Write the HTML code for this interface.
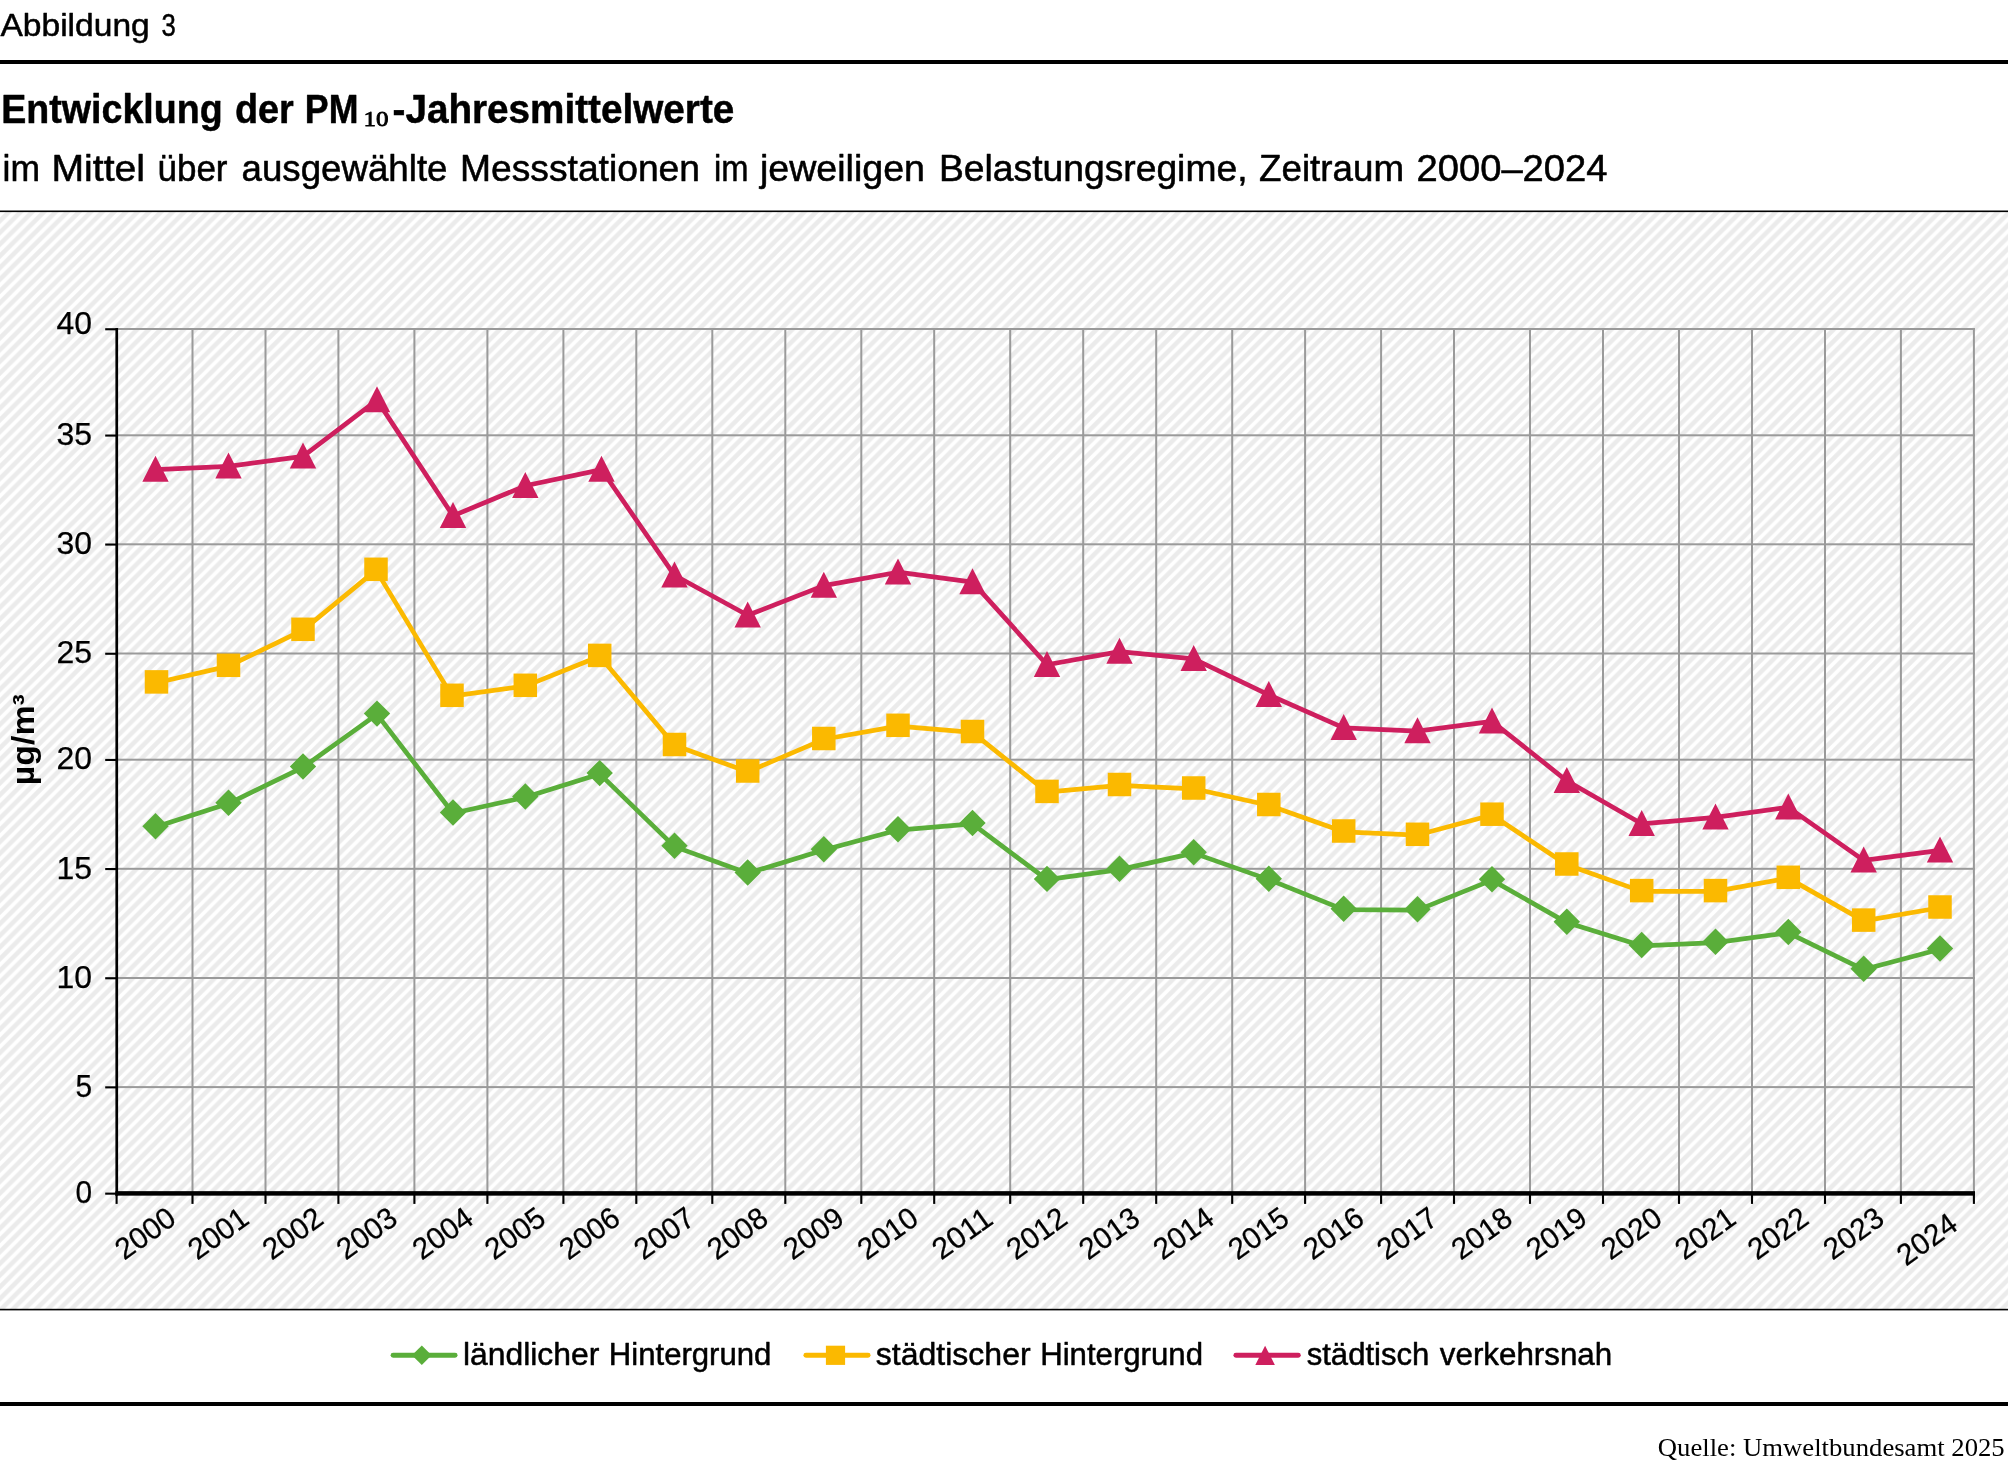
<!DOCTYPE html>
<html lang="de"><head><meta charset="utf-8"><title>Abbildung 3</title>
<style>
html,body{margin:0;padding:0;background:#fff;}
body{width:2008px;height:1467px;overflow:hidden;position:relative;font-family:"Liberation Sans", sans-serif;}
svg{position:absolute;left:0;top:0;display:block;will-change:transform;}
text{font-family:"Liberation Sans", sans-serif;fill:#000;}
.serif{font-family:"Liberation Serif", serif;}
</style></head><body>
<svg width="2008" height="1467" viewBox="0 0 2008 1467">
<defs>
<pattern id="hatch" patternUnits="userSpaceOnUse" width="11.700" height="11.716" x="2.9" y="212">
<rect width="11.700" height="11.716" fill="#fff"/>
<path d="M2.691,0 L9.009,0 L0,9.021 L0,2.695 Z M14.391,0 L20.709,0 L0,20.737 L0,14.411 Z M-9.009,0 L-2.691,0 L0,-2.695 L0,-9.021 Z" fill="#ebebeb"/>
</pattern>
<clipPath id="plotclip"><rect x="0" y="212" width="2008" height="1097"/></clipPath>
</defs>
<rect x="0" y="0" width="2008" height="1467" fill="#fff"/>
<text x="0.40" y="35.50" font-size="31.50" textLength="149.40" lengthAdjust="spacingAndGlyphs" stroke="#000" stroke-width="0.50" stroke-linejoin="round">Abbildung</text>
<text x="161.40" y="35.50" font-size="31.50" textLength="14.30" lengthAdjust="spacingAndGlyphs" stroke="#000" stroke-width="0.50" stroke-linejoin="round">3</text>
<rect x="0" y="60" width="2008" height="4" fill="#000"/>
<text x="1.20" y="122.80" font-size="41.00" textLength="221.50" lengthAdjust="spacingAndGlyphs" font-weight="bold" stroke="#000" stroke-width="0.50" stroke-linejoin="round">Entwicklung</text>
<text x="235.00" y="122.80" font-size="41.00" textLength="58.80" lengthAdjust="spacingAndGlyphs" font-weight="bold" stroke="#000" stroke-width="0.50" stroke-linejoin="round">der</text>
<text x="304.80" y="122.80" font-size="41.00" textLength="53.60" lengthAdjust="spacingAndGlyphs" font-weight="bold" stroke="#000" stroke-width="0.50" stroke-linejoin="round">PM</text>
<text x="363.60" y="125.60" font-size="21.00" textLength="25.00" lengthAdjust="spacingAndGlyphs" class="serif" stroke="#000" stroke-width="0.80" stroke-linejoin="round">10</text>
<text x="392.50" y="122.80" font-size="41.00" textLength="341.80" lengthAdjust="spacingAndGlyphs" font-weight="bold" stroke="#000" stroke-width="0.50" stroke-linejoin="round">-Jahresmittelwerte</text>
<text x="2.50" y="180.90" font-size="37.00" textLength="37.50" lengthAdjust="spacingAndGlyphs" stroke="#000" stroke-width="0.55" stroke-linejoin="round">im</text>
<text x="51.50" y="180.90" font-size="37.00" textLength="93.50" lengthAdjust="spacingAndGlyphs" stroke="#000" stroke-width="0.55" stroke-linejoin="round">Mittel</text>
<text x="157.50" y="180.90" font-size="37.00" textLength="70.00" lengthAdjust="spacingAndGlyphs" stroke="#000" stroke-width="0.55" stroke-linejoin="round">über</text>
<text x="241.50" y="180.90" font-size="37.00" textLength="206.00" lengthAdjust="spacingAndGlyphs" stroke="#000" stroke-width="0.55" stroke-linejoin="round">ausgewählte</text>
<text x="460.00" y="180.90" font-size="37.00" textLength="240.00" lengthAdjust="spacingAndGlyphs" stroke="#000" stroke-width="0.55" stroke-linejoin="round">Messstationen</text>
<text x="714.00" y="180.90" font-size="37.00" textLength="34.50" lengthAdjust="spacingAndGlyphs" stroke="#000" stroke-width="0.55" stroke-linejoin="round">im</text>
<text x="760.00" y="180.90" font-size="37.00" textLength="165.00" lengthAdjust="spacingAndGlyphs" stroke="#000" stroke-width="0.55" stroke-linejoin="round">jeweiligen</text>
<text x="939.00" y="180.90" font-size="37.00" textLength="308.50" lengthAdjust="spacingAndGlyphs" stroke="#000" stroke-width="0.55" stroke-linejoin="round">Belastungsregime,</text>
<text x="1259.00" y="180.90" font-size="37.00" textLength="145.00" lengthAdjust="spacingAndGlyphs" stroke="#000" stroke-width="0.55" stroke-linejoin="round">Zeitraum</text>
<text x="1416.50" y="180.90" font-size="37.00" textLength="191.00" lengthAdjust="spacingAndGlyphs" stroke="#000" stroke-width="0.55" stroke-linejoin="round">2000–2024</text>
<rect x="0" y="211" width="2008" height="1098.5" fill="url(#hatch)"/>
<rect x="0" y="210.5" width="2008" height="1.6" fill="#000"/>
<rect x="0" y="1308.8" width="2008" height="1.6" fill="#000"/>
<rect x="116.60" y="328.00" width="1858.30" height="2" fill="#9a9a9a"/>
<rect x="116.60" y="434.30" width="1858.30" height="2" fill="#9a9a9a"/>
<rect x="116.60" y="543.30" width="1858.30" height="2" fill="#9a9a9a"/>
<rect x="116.60" y="652.50" width="1858.30" height="2" fill="#9a9a9a"/>
<rect x="116.60" y="758.70" width="1858.30" height="2" fill="#9a9a9a"/>
<rect x="116.60" y="867.80" width="1858.30" height="2" fill="#9a9a9a"/>
<rect x="116.60" y="977.00" width="1858.30" height="2" fill="#9a9a9a"/>
<rect x="116.60" y="1086.10" width="1858.30" height="2" fill="#9a9a9a"/>
<rect x="191.50" y="328.00" width="2" height="864.40" fill="#9a9a9a"/>
<rect x="264.50" y="328.00" width="2" height="864.40" fill="#9a9a9a"/>
<rect x="337.40" y="328.00" width="2" height="864.40" fill="#9a9a9a"/>
<rect x="413.40" y="328.00" width="2" height="864.40" fill="#9a9a9a"/>
<rect x="486.40" y="328.00" width="2" height="864.40" fill="#9a9a9a"/>
<rect x="562.40" y="328.00" width="2" height="864.40" fill="#9a9a9a"/>
<rect x="635.30" y="328.00" width="2" height="864.40" fill="#9a9a9a"/>
<rect x="711.30" y="328.00" width="2" height="864.40" fill="#9a9a9a"/>
<rect x="784.30" y="328.00" width="2" height="864.40" fill="#9a9a9a"/>
<rect x="860.30" y="328.00" width="2" height="864.40" fill="#9a9a9a"/>
<rect x="933.20" y="328.00" width="2" height="864.40" fill="#9a9a9a"/>
<rect x="1009.20" y="328.00" width="2" height="864.40" fill="#9a9a9a"/>
<rect x="1082.20" y="328.00" width="2" height="864.40" fill="#9a9a9a"/>
<rect x="1155.20" y="328.00" width="2" height="864.40" fill="#9a9a9a"/>
<rect x="1231.20" y="328.00" width="2" height="864.40" fill="#9a9a9a"/>
<rect x="1304.10" y="328.00" width="2" height="864.40" fill="#9a9a9a"/>
<rect x="1380.10" y="328.00" width="2" height="864.40" fill="#9a9a9a"/>
<rect x="1453.00" y="328.00" width="2" height="864.40" fill="#9a9a9a"/>
<rect x="1529.00" y="328.00" width="2" height="864.40" fill="#9a9a9a"/>
<rect x="1602.00" y="328.00" width="2" height="864.40" fill="#9a9a9a"/>
<rect x="1678.00" y="328.00" width="2" height="864.40" fill="#9a9a9a"/>
<rect x="1751.00" y="328.00" width="2" height="864.40" fill="#9a9a9a"/>
<rect x="1824.00" y="328.00" width="2" height="864.40" fill="#9a9a9a"/>
<rect x="1899.90" y="328.00" width="2" height="864.40" fill="#9a9a9a"/>
<rect x="1972.90" y="328.00" width="2" height="864.40" fill="#9a9a9a"/>
<rect x="105.2" y="328.20" width="12" height="2.1" fill="#000"/>
<rect x="105.2" y="434.50" width="12" height="2.1" fill="#000"/>
<rect x="105.2" y="543.50" width="12" height="2.1" fill="#000"/>
<rect x="105.2" y="652.70" width="12" height="2.1" fill="#000"/>
<rect x="105.2" y="758.90" width="12" height="2.1" fill="#000"/>
<rect x="105.2" y="868.00" width="12" height="2.1" fill="#000"/>
<rect x="105.2" y="977.20" width="12" height="2.1" fill="#000"/>
<rect x="105.2" y="1086.30" width="12" height="2.1" fill="#000"/>
<rect x="105.2" y="1192.60" width="12" height="2.1" fill="#000"/>
<rect x="115.55" y="1193.40" width="2.1" height="10.5" fill="#000"/>
<rect x="191.45" y="1193.40" width="2.1" height="10.5" fill="#000"/>
<rect x="264.45" y="1193.40" width="2.1" height="10.5" fill="#000"/>
<rect x="337.35" y="1193.40" width="2.1" height="10.5" fill="#000"/>
<rect x="413.35" y="1193.40" width="2.1" height="10.5" fill="#000"/>
<rect x="486.35" y="1193.40" width="2.1" height="10.5" fill="#000"/>
<rect x="562.35" y="1193.40" width="2.1" height="10.5" fill="#000"/>
<rect x="635.25" y="1193.40" width="2.1" height="10.5" fill="#000"/>
<rect x="711.25" y="1193.40" width="2.1" height="10.5" fill="#000"/>
<rect x="784.25" y="1193.40" width="2.1" height="10.5" fill="#000"/>
<rect x="860.25" y="1193.40" width="2.1" height="10.5" fill="#000"/>
<rect x="933.15" y="1193.40" width="2.1" height="10.5" fill="#000"/>
<rect x="1009.15" y="1193.40" width="2.1" height="10.5" fill="#000"/>
<rect x="1082.15" y="1193.40" width="2.1" height="10.5" fill="#000"/>
<rect x="1155.15" y="1193.40" width="2.1" height="10.5" fill="#000"/>
<rect x="1231.15" y="1193.40" width="2.1" height="10.5" fill="#000"/>
<rect x="1304.05" y="1193.40" width="2.1" height="10.5" fill="#000"/>
<rect x="1380.05" y="1193.40" width="2.1" height="10.5" fill="#000"/>
<rect x="1452.95" y="1193.40" width="2.1" height="10.5" fill="#000"/>
<rect x="1528.95" y="1193.40" width="2.1" height="10.5" fill="#000"/>
<rect x="1601.95" y="1193.40" width="2.1" height="10.5" fill="#000"/>
<rect x="1677.95" y="1193.40" width="2.1" height="10.5" fill="#000"/>
<rect x="1750.95" y="1193.40" width="2.1" height="10.5" fill="#000"/>
<rect x="1823.95" y="1193.40" width="2.1" height="10.5" fill="#000"/>
<rect x="1899.85" y="1193.40" width="2.1" height="10.5" fill="#000"/>
<rect x="1972.85" y="1193.40" width="2.1" height="10.5" fill="#000"/>
<rect x="115.40" y="328.00" width="2.7" height="867.60" fill="#000"/>
<rect x="115.40" y="1191.15" width="1859.60" height="4.5" fill="#000"/>
<text x="56.40" y="334.30" font-size="30.50" textLength="35.60" lengthAdjust="spacingAndGlyphs" stroke="#000" stroke-width="0.25" stroke-linejoin="round">40</text>
<text x="56.40" y="445.00" font-size="30.50" textLength="35.60" lengthAdjust="spacingAndGlyphs" stroke="#000" stroke-width="0.25" stroke-linejoin="round">35</text>
<text x="56.40" y="554.00" font-size="30.50" textLength="35.60" lengthAdjust="spacingAndGlyphs" stroke="#000" stroke-width="0.25" stroke-linejoin="round">30</text>
<text x="56.40" y="663.20" font-size="30.50" textLength="35.60" lengthAdjust="spacingAndGlyphs" stroke="#000" stroke-width="0.25" stroke-linejoin="round">25</text>
<text x="56.40" y="769.40" font-size="30.50" textLength="35.60" lengthAdjust="spacingAndGlyphs" stroke="#000" stroke-width="0.25" stroke-linejoin="round">20</text>
<text x="56.40" y="878.50" font-size="30.50" textLength="35.60" lengthAdjust="spacingAndGlyphs" stroke="#000" stroke-width="0.25" stroke-linejoin="round">15</text>
<text x="56.40" y="987.70" font-size="30.50" textLength="35.60" lengthAdjust="spacingAndGlyphs" stroke="#000" stroke-width="0.25" stroke-linejoin="round">10</text>
<text x="75.40" y="1096.80" font-size="30.50" textLength="16.60" lengthAdjust="spacingAndGlyphs" stroke="#000" stroke-width="0.25" stroke-linejoin="round">5</text>
<text x="75.40" y="1203.10" font-size="30.50" textLength="16.60" lengthAdjust="spacingAndGlyphs" stroke="#000" stroke-width="0.25" stroke-linejoin="round">0</text>
<text transform="translate(178.00,1222.50) rotate(-35.5)" x="0" y="0" font-size="30" text-anchor="end" textLength="66" lengthAdjust="spacingAndGlyphs" stroke="#000" stroke-width="0.25">2000</text>
<text transform="translate(251.00,1222.50) rotate(-35.5)" x="0" y="0" font-size="30" text-anchor="end" textLength="66" lengthAdjust="spacingAndGlyphs" stroke="#000" stroke-width="0.25">2001</text>
<text transform="translate(325.50,1222.50) rotate(-35.5)" x="0" y="0" font-size="30" text-anchor="end" textLength="66" lengthAdjust="spacingAndGlyphs" stroke="#000" stroke-width="0.25">2002</text>
<text transform="translate(399.50,1222.50) rotate(-35.5)" x="0" y="0" font-size="30" text-anchor="end" textLength="66" lengthAdjust="spacingAndGlyphs" stroke="#000" stroke-width="0.25">2003</text>
<text transform="translate(475.50,1222.50) rotate(-35.5)" x="0" y="0" font-size="30" text-anchor="end" textLength="66" lengthAdjust="spacingAndGlyphs" stroke="#000" stroke-width="0.25">2004</text>
<text transform="translate(547.80,1222.50) rotate(-35.5)" x="0" y="0" font-size="30" text-anchor="end" textLength="66" lengthAdjust="spacingAndGlyphs" stroke="#000" stroke-width="0.25">2005</text>
<text transform="translate(622.20,1222.50) rotate(-35.5)" x="0" y="0" font-size="30" text-anchor="end" textLength="66" lengthAdjust="spacingAndGlyphs" stroke="#000" stroke-width="0.25">2006</text>
<text transform="translate(697.00,1222.50) rotate(-35.5)" x="0" y="0" font-size="30" text-anchor="end" textLength="66" lengthAdjust="spacingAndGlyphs" stroke="#000" stroke-width="0.25">2007</text>
<text transform="translate(770.20,1222.50) rotate(-35.5)" x="0" y="0" font-size="30" text-anchor="end" textLength="66" lengthAdjust="spacingAndGlyphs" stroke="#000" stroke-width="0.25">2008</text>
<text transform="translate(846.30,1222.50) rotate(-35.5)" x="0" y="0" font-size="30" text-anchor="end" textLength="66" lengthAdjust="spacingAndGlyphs" stroke="#000" stroke-width="0.25">2009</text>
<text transform="translate(920.50,1222.50) rotate(-35.5)" x="0" y="0" font-size="30" text-anchor="end" textLength="66" lengthAdjust="spacingAndGlyphs" stroke="#000" stroke-width="0.25">2010</text>
<text transform="translate(995.00,1222.50) rotate(-35.5)" x="0" y="0" font-size="30" text-anchor="end" textLength="66" lengthAdjust="spacingAndGlyphs" stroke="#000" stroke-width="0.25">2011</text>
<text transform="translate(1069.50,1222.50) rotate(-35.5)" x="0" y="0" font-size="30" text-anchor="end" textLength="66" lengthAdjust="spacingAndGlyphs" stroke="#000" stroke-width="0.25">2012</text>
<text transform="translate(1142.00,1222.50) rotate(-35.5)" x="0" y="0" font-size="30" text-anchor="end" textLength="66" lengthAdjust="spacingAndGlyphs" stroke="#000" stroke-width="0.25">2013</text>
<text transform="translate(1216.20,1222.50) rotate(-35.5)" x="0" y="0" font-size="30" text-anchor="end" textLength="66" lengthAdjust="spacingAndGlyphs" stroke="#000" stroke-width="0.25">2014</text>
<text transform="translate(1291.30,1222.50) rotate(-35.5)" x="0" y="0" font-size="30" text-anchor="end" textLength="66" lengthAdjust="spacingAndGlyphs" stroke="#000" stroke-width="0.25">2015</text>
<text transform="translate(1366.20,1222.50) rotate(-35.5)" x="0" y="0" font-size="30" text-anchor="end" textLength="66" lengthAdjust="spacingAndGlyphs" stroke="#000" stroke-width="0.25">2016</text>
<text transform="translate(1440.00,1222.50) rotate(-35.5)" x="0" y="0" font-size="30" text-anchor="end" textLength="66" lengthAdjust="spacingAndGlyphs" stroke="#000" stroke-width="0.25">2017</text>
<text transform="translate(1514.50,1222.50) rotate(-35.5)" x="0" y="0" font-size="30" text-anchor="end" textLength="66" lengthAdjust="spacingAndGlyphs" stroke="#000" stroke-width="0.25">2018</text>
<text transform="translate(1589.30,1222.50) rotate(-35.5)" x="0" y="0" font-size="30" text-anchor="end" textLength="66" lengthAdjust="spacingAndGlyphs" stroke="#000" stroke-width="0.25">2019</text>
<text transform="translate(1664.20,1222.50) rotate(-35.5)" x="0" y="0" font-size="30" text-anchor="end" textLength="66" lengthAdjust="spacingAndGlyphs" stroke="#000" stroke-width="0.25">2020</text>
<text transform="translate(1738.00,1222.50) rotate(-35.5)" x="0" y="0" font-size="30" text-anchor="end" textLength="66" lengthAdjust="spacingAndGlyphs" stroke="#000" stroke-width="0.25">2021</text>
<text transform="translate(1810.80,1222.50) rotate(-35.5)" x="0" y="0" font-size="30" text-anchor="end" textLength="66" lengthAdjust="spacingAndGlyphs" stroke="#000" stroke-width="0.25">2022</text>
<text transform="translate(1886.20,1222.50) rotate(-35.5)" x="0" y="0" font-size="30" text-anchor="end" textLength="66" lengthAdjust="spacingAndGlyphs" stroke="#000" stroke-width="0.25">2023</text>
<text transform="translate(1959.80,1228.30) rotate(-35.5)" x="0" y="0" font-size="30" text-anchor="end" textLength="66" lengthAdjust="spacingAndGlyphs" stroke="#000" stroke-width="0.25">2024</text>
<text transform="translate(34.1,785.2) rotate(-90)" x="0" y="0" font-size="31" font-weight="bold" textLength="91.1" lengthAdjust="spacingAndGlyphs">µg/m³</text>
<polyline points="155.50,827.10 228.50,803.60 303.00,767.30 377.00,714.40 453.00,813.30 525.30,797.30 599.70,773.90 674.50,846.60 747.70,873.30 823.80,850.10 898.00,830.10 972.50,823.80 1047.00,879.70 1119.50,869.60 1193.70,853.10 1268.80,879.60 1343.70,909.60 1417.50,910.10 1492.00,880.10 1566.80,922.60 1641.70,945.80 1715.50,942.60 1788.30,932.80 1863.70,969.60 1940.00,949.30" fill="none" stroke="#5aae3a" stroke-width="4.7" stroke-linejoin="round" stroke-linecap="round"/>
<path d="M155.50,813.10 L168.70,826.30 L155.50,839.50 L142.30,826.30 Z" fill="#5aae3a"/>
<path d="M228.50,789.60 L241.70,802.80 L228.50,816.00 L215.30,802.80 Z" fill="#5aae3a"/>
<path d="M303.00,753.30 L316.20,766.50 L303.00,779.70 L289.80,766.50 Z" fill="#5aae3a"/>
<path d="M377.00,700.40 L390.20,713.60 L377.00,726.80 L363.80,713.60 Z" fill="#5aae3a"/>
<path d="M453.00,799.30 L466.20,812.50 L453.00,825.70 L439.80,812.50 Z" fill="#5aae3a"/>
<path d="M525.30,783.30 L538.50,796.50 L525.30,809.70 L512.10,796.50 Z" fill="#5aae3a"/>
<path d="M599.70,759.90 L612.90,773.10 L599.70,786.30 L586.50,773.10 Z" fill="#5aae3a"/>
<path d="M674.50,832.60 L687.70,845.80 L674.50,859.00 L661.30,845.80 Z" fill="#5aae3a"/>
<path d="M747.70,859.30 L760.90,872.50 L747.70,885.70 L734.50,872.50 Z" fill="#5aae3a"/>
<path d="M823.80,836.10 L837.00,849.30 L823.80,862.50 L810.60,849.30 Z" fill="#5aae3a"/>
<path d="M898.00,816.10 L911.20,829.30 L898.00,842.50 L884.80,829.30 Z" fill="#5aae3a"/>
<path d="M972.50,809.80 L985.70,823.00 L972.50,836.20 L959.30,823.00 Z" fill="#5aae3a"/>
<path d="M1047.00,865.70 L1060.20,878.90 L1047.00,892.10 L1033.80,878.90 Z" fill="#5aae3a"/>
<path d="M1119.50,855.60 L1132.70,868.80 L1119.50,882.00 L1106.30,868.80 Z" fill="#5aae3a"/>
<path d="M1193.70,839.10 L1206.90,852.30 L1193.70,865.50 L1180.50,852.30 Z" fill="#5aae3a"/>
<path d="M1268.80,865.60 L1282.00,878.80 L1268.80,892.00 L1255.60,878.80 Z" fill="#5aae3a"/>
<path d="M1343.70,895.60 L1356.90,908.80 L1343.70,922.00 L1330.50,908.80 Z" fill="#5aae3a"/>
<path d="M1417.50,896.10 L1430.70,909.30 L1417.50,922.50 L1404.30,909.30 Z" fill="#5aae3a"/>
<path d="M1492.00,866.10 L1505.20,879.30 L1492.00,892.50 L1478.80,879.30 Z" fill="#5aae3a"/>
<path d="M1566.80,908.60 L1580.00,921.80 L1566.80,935.00 L1553.60,921.80 Z" fill="#5aae3a"/>
<path d="M1641.70,931.80 L1654.90,945.00 L1641.70,958.20 L1628.50,945.00 Z" fill="#5aae3a"/>
<path d="M1715.50,928.60 L1728.70,941.80 L1715.50,955.00 L1702.30,941.80 Z" fill="#5aae3a"/>
<path d="M1788.30,918.80 L1801.50,932.00 L1788.30,945.20 L1775.10,932.00 Z" fill="#5aae3a"/>
<path d="M1863.70,955.60 L1876.90,968.80 L1863.70,982.00 L1850.50,968.80 Z" fill="#5aae3a"/>
<path d="M1940.00,935.30 L1953.20,948.50 L1940.00,961.70 L1926.80,948.50 Z" fill="#5aae3a"/>
<polyline points="156.50,682.70 228.50,666.10 303.00,630.10 376.00,570.10 452.00,696.10 525.30,686.10 599.70,656.20 674.50,745.30 747.70,771.80 823.80,739.30 898.00,726.10 972.50,732.30 1047.00,792.20 1119.50,785.30 1193.70,788.80 1268.80,805.30 1343.70,831.80 1417.50,835.10 1492.00,815.00 1566.80,864.80 1641.70,891.40 1715.50,891.40 1788.30,878.10 1863.70,920.90 1940.00,907.80" fill="none" stroke="#fbb900" stroke-width="4.7" stroke-linejoin="round" stroke-linecap="round"/>
<rect x="144.75" y="670.15" width="23.50" height="23.50" fill="#fbb900"/>
<rect x="216.75" y="653.55" width="23.50" height="23.50" fill="#fbb900"/>
<rect x="291.25" y="617.55" width="23.50" height="23.50" fill="#fbb900"/>
<rect x="364.25" y="557.55" width="23.50" height="23.50" fill="#fbb900"/>
<rect x="440.25" y="683.55" width="23.50" height="23.50" fill="#fbb900"/>
<rect x="513.55" y="673.55" width="23.50" height="23.50" fill="#fbb900"/>
<rect x="587.95" y="643.65" width="23.50" height="23.50" fill="#fbb900"/>
<rect x="662.75" y="732.75" width="23.50" height="23.50" fill="#fbb900"/>
<rect x="735.95" y="759.25" width="23.50" height="23.50" fill="#fbb900"/>
<rect x="812.05" y="726.75" width="23.50" height="23.50" fill="#fbb900"/>
<rect x="886.25" y="713.55" width="23.50" height="23.50" fill="#fbb900"/>
<rect x="960.75" y="719.75" width="23.50" height="23.50" fill="#fbb900"/>
<rect x="1035.25" y="779.65" width="23.50" height="23.50" fill="#fbb900"/>
<rect x="1107.75" y="772.75" width="23.50" height="23.50" fill="#fbb900"/>
<rect x="1181.95" y="776.25" width="23.50" height="23.50" fill="#fbb900"/>
<rect x="1257.05" y="792.75" width="23.50" height="23.50" fill="#fbb900"/>
<rect x="1331.95" y="819.25" width="23.50" height="23.50" fill="#fbb900"/>
<rect x="1405.75" y="822.55" width="23.50" height="23.50" fill="#fbb900"/>
<rect x="1480.25" y="802.45" width="23.50" height="23.50" fill="#fbb900"/>
<rect x="1555.05" y="852.25" width="23.50" height="23.50" fill="#fbb900"/>
<rect x="1629.95" y="878.85" width="23.50" height="23.50" fill="#fbb900"/>
<rect x="1703.75" y="878.85" width="23.50" height="23.50" fill="#fbb900"/>
<rect x="1776.55" y="865.55" width="23.50" height="23.50" fill="#fbb900"/>
<rect x="1851.95" y="908.35" width="23.50" height="23.50" fill="#fbb900"/>
<rect x="1928.25" y="895.25" width="23.50" height="23.50" fill="#fbb900"/>
<polyline points="155.50,469.60 228.50,466.30 303.00,456.30 377.00,400.10 453.00,515.80 525.30,485.80 601.50,469.60 674.50,575.30 747.70,615.30 823.80,585.60 898.00,572.20 972.50,582.10 1047.00,664.80 1119.50,651.60 1193.70,658.80 1268.80,694.80 1343.70,727.80 1417.50,731.10 1492.00,721.30 1566.80,780.80 1641.70,823.80 1715.50,817.30 1788.30,807.30 1863.70,860.30 1940.00,850.30" fill="none" stroke="#ce1f5e" stroke-width="4.7" stroke-linejoin="round" stroke-linecap="round"/>
<path d="M155.50,455.80 L168.70,481.80 L142.30,481.80 Z" fill="#ce1f5e"/>
<path d="M228.50,452.50 L241.70,478.50 L215.30,478.50 Z" fill="#ce1f5e"/>
<path d="M303.00,442.50 L316.20,468.50 L289.80,468.50 Z" fill="#ce1f5e"/>
<path d="M377.00,386.30 L390.20,412.30 L363.80,412.30 Z" fill="#ce1f5e"/>
<path d="M453.00,502.00 L466.20,528.00 L439.80,528.00 Z" fill="#ce1f5e"/>
<path d="M525.30,472.00 L538.50,498.00 L512.10,498.00 Z" fill="#ce1f5e"/>
<path d="M601.50,455.80 L614.70,481.80 L588.30,481.80 Z" fill="#ce1f5e"/>
<path d="M674.50,561.50 L687.70,587.50 L661.30,587.50 Z" fill="#ce1f5e"/>
<path d="M747.70,601.50 L760.90,627.50 L734.50,627.50 Z" fill="#ce1f5e"/>
<path d="M823.80,571.80 L837.00,597.80 L810.60,597.80 Z" fill="#ce1f5e"/>
<path d="M898.00,558.40 L911.20,584.40 L884.80,584.40 Z" fill="#ce1f5e"/>
<path d="M972.50,568.30 L985.70,594.30 L959.30,594.30 Z" fill="#ce1f5e"/>
<path d="M1047.00,651.00 L1060.20,677.00 L1033.80,677.00 Z" fill="#ce1f5e"/>
<path d="M1119.50,637.80 L1132.70,663.80 L1106.30,663.80 Z" fill="#ce1f5e"/>
<path d="M1193.70,645.00 L1206.90,671.00 L1180.50,671.00 Z" fill="#ce1f5e"/>
<path d="M1268.80,681.00 L1282.00,707.00 L1255.60,707.00 Z" fill="#ce1f5e"/>
<path d="M1343.70,714.00 L1356.90,740.00 L1330.50,740.00 Z" fill="#ce1f5e"/>
<path d="M1417.50,717.30 L1430.70,743.30 L1404.30,743.30 Z" fill="#ce1f5e"/>
<path d="M1492.00,707.50 L1505.20,733.50 L1478.80,733.50 Z" fill="#ce1f5e"/>
<path d="M1566.80,767.00 L1580.00,793.00 L1553.60,793.00 Z" fill="#ce1f5e"/>
<path d="M1641.70,810.00 L1654.90,836.00 L1628.50,836.00 Z" fill="#ce1f5e"/>
<path d="M1715.50,803.50 L1728.70,829.50 L1702.30,829.50 Z" fill="#ce1f5e"/>
<path d="M1788.30,793.50 L1801.50,819.50 L1775.10,819.50 Z" fill="#ce1f5e"/>
<path d="M1863.70,846.50 L1876.90,872.50 L1850.50,872.50 Z" fill="#ce1f5e"/>
<path d="M1940.00,836.50 L1953.20,862.50 L1926.80,862.50 Z" fill="#ce1f5e"/>
<line x1="393.10" y1="1355.30" x2="455.10" y2="1355.30" stroke="#5aae3a" stroke-width="4.9" stroke-linecap="round"/>
<path d="M421.80,1345.50 L431.60,1355.30 L421.80,1365.10 L412.00,1355.30 Z" fill="#5aae3a"/>
<line x1="805.90" y1="1355.30" x2="868.10" y2="1355.30" stroke="#fbb900" stroke-width="4.9" stroke-linecap="round"/>
<rect x="825.90" y="1345.70" width="19.20" height="19.20" fill="#fbb900"/>
<line x1="1235.90" y1="1355.30" x2="1298.30" y2="1355.30" stroke="#ce1f5e" stroke-width="4.9" stroke-linecap="round"/>
<path d="M1265.10,1345.70 L1274.90,1364.90 L1255.30,1364.90 Z" fill="#ce1f5e"/>
<text x="462.90" y="1364.70" font-size="31.00" textLength="136.40" lengthAdjust="spacingAndGlyphs" stroke="#000" stroke-width="0.50" stroke-linejoin="round">ländlicher</text>
<text x="608.80" y="1364.70" font-size="31.00" textLength="162.60" lengthAdjust="spacingAndGlyphs" stroke="#000" stroke-width="0.50" stroke-linejoin="round">Hintergrund</text>
<text x="875.80" y="1364.70" font-size="31.00" textLength="154.80" lengthAdjust="spacingAndGlyphs" stroke="#000" stroke-width="0.50" stroke-linejoin="round">städtischer</text>
<text x="1040.20" y="1364.70" font-size="31.00" textLength="162.80" lengthAdjust="spacingAndGlyphs" stroke="#000" stroke-width="0.50" stroke-linejoin="round">Hintergrund</text>
<text x="1306.70" y="1364.70" font-size="31.00" textLength="122.60" lengthAdjust="spacingAndGlyphs" stroke="#000" stroke-width="0.50" stroke-linejoin="round">städtisch</text>
<text x="1439.80" y="1364.70" font-size="31.00" textLength="172.40" lengthAdjust="spacingAndGlyphs" stroke="#000" stroke-width="0.50" stroke-linejoin="round">verkehrsnah</text>
<rect x="0" y="1402" width="2008" height="4" fill="#000"/>
<text x="2004.70" y="1455.50" font-size="24.20" textLength="346.90" lengthAdjust="spacingAndGlyphs" class="serif" text-anchor="end">Quelle: Umweltbundesamt 2025</text>
</svg>
</body></html>
